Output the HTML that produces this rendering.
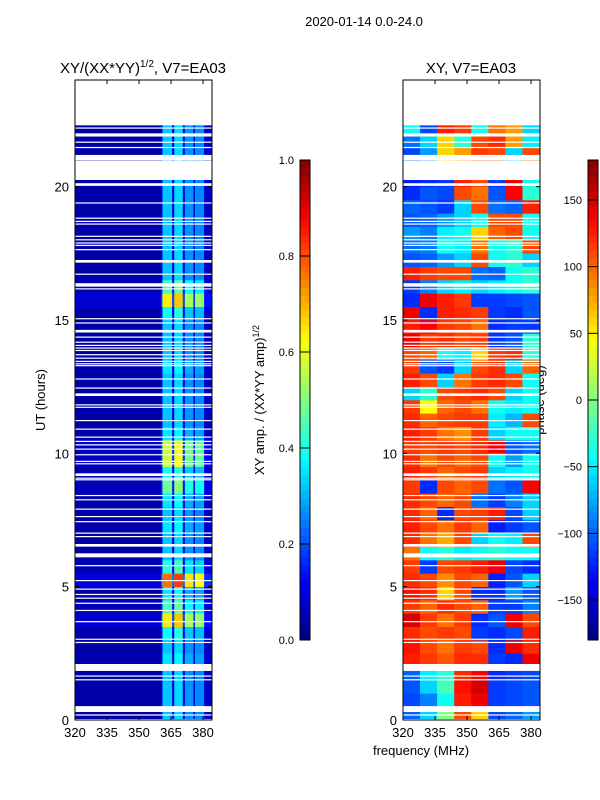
<!DOCTYPE html>
<html><head><meta charset="utf-8">
<style>
body{margin:0;background:#fff;}
svg{display:block;font-family:"Liberation Sans",sans-serif;}
</style></head>
<body>
<svg id="fig" width="600" height="800" viewBox="0 0 600 800">
<rect x="0" y="0" width="600" height="800" fill="#fff"/>
<text x="364" y="26" font-size="13" text-anchor="middle">2020-01-14 0.0-24.0</text>
<text x="143" y="73" font-size="15" text-anchor="middle">XY/(XX*YY)<tspan font-size="10" dy="-6">1/2</tspan><tspan dy="6">, V7=EA03</tspan></text>
<text x="471" y="73" font-size="15" text-anchor="middle">XY, V7=EA03</text>
<text x="45" y="400" font-size="13" text-anchor="middle" transform="rotate(-90 45 400)">UT (hours)</text>
<text x="421" y="755" font-size="13" text-anchor="middle">frequency (MHz)</text>
<text x="264" y="400" font-size="13" text-anchor="middle" transform="rotate(-90 264 400)">XY amp. / (XX*YY amp)<tspan font-size="9" dy="-5">1/2</tspan></text>
<text x="544" y="400" font-size="13" text-anchor="middle" transform="rotate(-90 544 400)">phase (deg)</text>
<g id="amp-heat"></g>
<g id="ph-heat"></g>
<g id="gaps"></g>
<g id="axes"></g>
<g id="cbars"></g>
</svg>
<script>
// ---- data ----
const rowStep = 0.5; // hours per row
const dataStart = 0.05, dataEnd = 22.3;
const ampFreqEdges = [320,360.5,361,365.5,366.5,370.5,371.5,375.5,376.2,380.5,384.2];
const ampColValues = [0.04,0.12,0.32,0.10,0.34,0.10,0.27,0.08,0.26,0.07];
const ampRowGain = [1.0,1.0,1.0,1.0,1.1,1.0,1.2,2.0,1.4,1.1,2.4,1.3,1.0,1.0,1.1,1.0,1.1,1.5,1.2,1.8,1.8,1.1,1.0,1.0,
                    1.0,1.0,1.1,1.0,1.0,1.0,1.2,2.0,1.4,1.0,1.0,1.0,1.0,1.0,1.0,1.0,1.0,null,1.0,1.0,1.0,null,null,null];
const phaseFreqEdges = [320,328,336,344,352,360,368,376,384.2];
const phaseRows = [
 [-100,-60,0,110,60,-110,-100,-80],[-110,-90,-40,125,140,-115,-110,-105],[-105,-60,-20,130,150,-115,-110,-105],[-100,-50,-30,120,135,-120,-115,-110],
 [125,115,105,120,120,-115,-120,140],[130,110,95,115,110,-120,140,120],[120,110,115,110,-115,-120,-110,125],[150,115,95,115,-120,-105,140,110],
 [115,100,120,110,100,-115,-115,-90],[130,120,60,110,-120,-120,-80,-105],[120,110,85,110,100,-125,-105,-60],[115,-115,110,115,125,140,-110,-120],
 [95,-40,-30,-50,-40,-30,-40,-40],[120,95,75,110,-60,-40,-50,110],[125,110,95,115,100,-125,-115,-105],[120,100,-120,110,115,125,-110,-60],
 [120,110,100,110,-95,-115,-90,-60],[115,-120,110,100,110,-95,-105,135],[125,115,100,110,115,-60,-50,-40],[120,95,110,100,110,-40,-80,-40],
 [115,110,115,110,120,135,-105,-95],[125,115,95,85,115,-60,-40,-40],[120,100,110,115,115,-50,-70,110],[115,45,100,110,95,-40,-50,-40],
 [-60,-30,110,115,120,110,-60,-40],[125,110,-60,95,115,120,110,-40],[115,-105,-115,-60,110,120,-60,100],[110,100,-40,-50,60,115,120,-30],
 [140,115,120,110,115,-115,-105,-30],[125,135,115,110,95,-120,-115,-115],[140,-120,125,120,115,-115,-120,-105],[-120,140,125,115,-115,-115,-110,-105],
 [-115,-90,-60,-50,-60,-50,-40,-30],[125,115,110,110,-95,-100,-40,-30],[-105,-100,-80,-60,110,-40,-30,-60],[-95,-90,-40,-50,95,-40,-30,110],
 [-80,-90,-50,-40,60,100,110,-40],[-105,-100,-80,-60,-40,110,110,-40],[-100,-105,-115,-60,110,-95,-100,125],[-120,-105,-110,110,95,-105,135,-30],
 [-125,-120,-115,125,110,-115,140,-40],null,[-110,-80,60,80,115,110,-60,110],[-95,-60,60,-30,110,120,80,-50],
 [-40,-110,125,115,-40,95,80,-60],null,null,null];
const gapStarts = [0.18,0.3,1.5,1.64,1.84,2.9,3.02,3.68,4.1,4.37,4.56,4.7,4.9,5.22,5.78,6.1,6.5,6.87,7.0,7.43,7.62,7.9,8.25,8.41,9.0,9.06,9.15,9.6,9.69,9.94,10.15,10.31,10.44,10.6,10.9,11.22,11.72,11.81,
 12.15,12.44,12.78,13.28,13.35,13.44,13.56,13.69,13.85,13.94,14.04,14.16,14.35,14.53,14.88,15.04,16.16,16.25,16.71,17.15,17.63,17.79,17.88,18.0,18.13,18.59,18.69,18.81,19.38,20.03,20.25,21.0,21.46,21.66,21.88,22.19];
const gapEnds   = [0.21,0.52,1.53,1.67,2.1,2.93,3.05,3.71,4.13,4.40,4.59,4.73,4.93,5.25,5.81,6.25,6.6,6.9,7.03,7.46,7.65,7.93,8.28,8.44,9.03,9.09,9.25,9.63,9.72,9.97,10.18,10.34,10.47,10.63,10.93,11.25,11.75,11.84,
 12.25,12.47,12.81,13.31,13.38,13.47,13.59,13.72,13.88,13.97,14.07,14.19,14.38,14.63,14.91,15.07,16.19,16.38,16.74,17.25,17.66,17.82,17.91,18.03,18.16,18.62,18.72,18.84,19.41,20.13,20.94,21.19,21.49,21.69,22.0,22.22];
const yTicks = [0,5,10,15,20];
const xTicks = [320,335,350,365,380];
const ampCbTicks = [0.0,0.2,0.4,0.6,0.8,1.0];
const phCbTicks = [-150,-100,-50,0,50,100,150];

// ---- layout ----
const NS="http://www.w3.org/2000/svg";
const panels=[{x0:75,x1:212,id:'left'},{x0:403,x1:540,id:'right'}];
const Y0=720,Y1=80,F0=320,F1=384.2,H1=24;
const yS=h=>Y0-(h/H1)*(Y0-Y1);
const xS=(p,f)=>p.x0+(f-F0)/(F1-F0)*(p.x1-p.x0);
function jet(v){v=Math.max(0,Math.min(1,v));const c=t=>Math.round(255*Math.max(0,Math.min(1,1.5-Math.abs(4*v-t))));return `rgb(${c(3)},${c(2)},${c(1)})`;}
function mk(tag,attrs,parent){const e=document.createElementNS(NS,tag);for(const k in attrs)e.setAttribute(k,attrs[k]);parent.appendChild(e);return e;}

const ampG=document.getElementById('amp-heat'),phG=document.getElementById('ph-heat');
for(let r=0;r<ampRowGain.length;r++){
  const g=ampRowGain[r]; if(g===null)continue;
  const h0=Math.max(r*rowStep,dataStart),h1=Math.min((r+1)*rowStep,dataEnd); if(h1<=h0)continue;
  for(let c=0;c<ampColValues.length;c++){
    const p=panels[0];const x=xS(p,ampFreqEdges[c]),x2=xS(p,ampFreqEdges[c+1]);
    const e=mk('rect',{x:x,y:yS(h1),width:x2-x+0.3,height:yS(h0)-yS(h1)+0.3,fill:jet(Math.min(0.97,ampColValues[c]*g))},ampG);
    
    
  }
  const pr=phaseRows[r]; if(!pr)continue;
  for(let c=0;c<pr.length;c++){
    const p=panels[1];const x=xS(p,phaseFreqEdges[c]),x2=xS(p,phaseFreqEdges[c+1]);
    const e=mk('rect',{x:x,y:yS(h1),width:x2-x+0.3,height:yS(h0)-yS(h1)+0.3,fill:jet((pr[c]+180)/360)},phG);
    
    
  }
}
const gapG=document.getElementById('gaps');
for(let i=0;i<gapStarts.length;i++){
  for(const p of panels){
    const e=mk('rect',{x:p.x0,y:yS(gapEnds[i]),width:p.x1-p.x0,height:Math.max(1.2,yS(gapStarts[i])-yS(gapEnds[i])),fill:'#fff'},gapG);
    
    
  }
}
const axG=document.getElementById('axes');
for(const p of panels){
  const fr=mk('rect',{x:p.x0,y:Y1,width:p.x1-p.x0,height:Y0-Y1,fill:'none',stroke:'#000','stroke-width':1},axG);
  
  
  for(const t of yTicks){
    const y=yS(t);
    mk('line',{x1:p.x0,x2:p.x0+4,y1:y,y2:y,stroke:'#000'},axG);
    mk('line',{x1:p.x1,x2:p.x1-4,y1:y,y2:y,stroke:'#000'},axG);
    const tl=mk('text',{x:p.x0-6,y:y+5,'font-size':13,'text-anchor':'end'},axG);tl.textContent=t;
    
    
  }
  for(const t of xTicks){
    const x=xS(p,t);
    mk('line',{x1:x,x2:x,y1:Y0,y2:Y0-4,stroke:'#000'},axG);
    mk('line',{x1:x,x2:x,y1:Y1,y2:Y1+4,stroke:'#000'},axG);
    const tl=mk('text',{x:x,y:Y0+17,'font-size':13,'text-anchor':'middle'},axG);tl.textContent=t;
    
    
  }
}
const cbG=document.getElementById('cbars');
const cbs=[{x:300,ticks:ampCbTicks,min:0,max:1,fmt:v=>v.toFixed(1),name:'amp-colorbar'},{x:588,ticks:phCbTicks,min:-180,max:180,fmt:v=>v<0?'\u2212'+(-v):''+v,name:'phase-colorbar'}];
for(const cb of cbs){
  const n=64,top=160,bot=640;
  for(let i=0;i<n;i++){
    const y=bot-(i+1)*(bot-top)/n;
    mk('rect',{x:cb.x,y:y,width:10,height:(bot-top)/n+0.4,fill:jet((i+0.5)/n)},cbG);
  }
  const f=mk('rect',{x:cb.x,y:top,width:10,height:bot-top,fill:'none',stroke:'#000'},cbG);
  
  
  for(const t of cb.ticks){
    const y=bot-(t-cb.min)/(cb.max-cb.min)*(bot-top);
    mk('line',{x1:cb.x,x2:cb.x+10,y1:y,y2:y,stroke:'#000'},cbG);
    const tl=mk('text',{x:cb.x-6,y:y+4,'font-size':11,'text-anchor':'end'},cbG);tl.textContent=cb.fmt(t);
    
    
  }
}
</script>
</body></html>
